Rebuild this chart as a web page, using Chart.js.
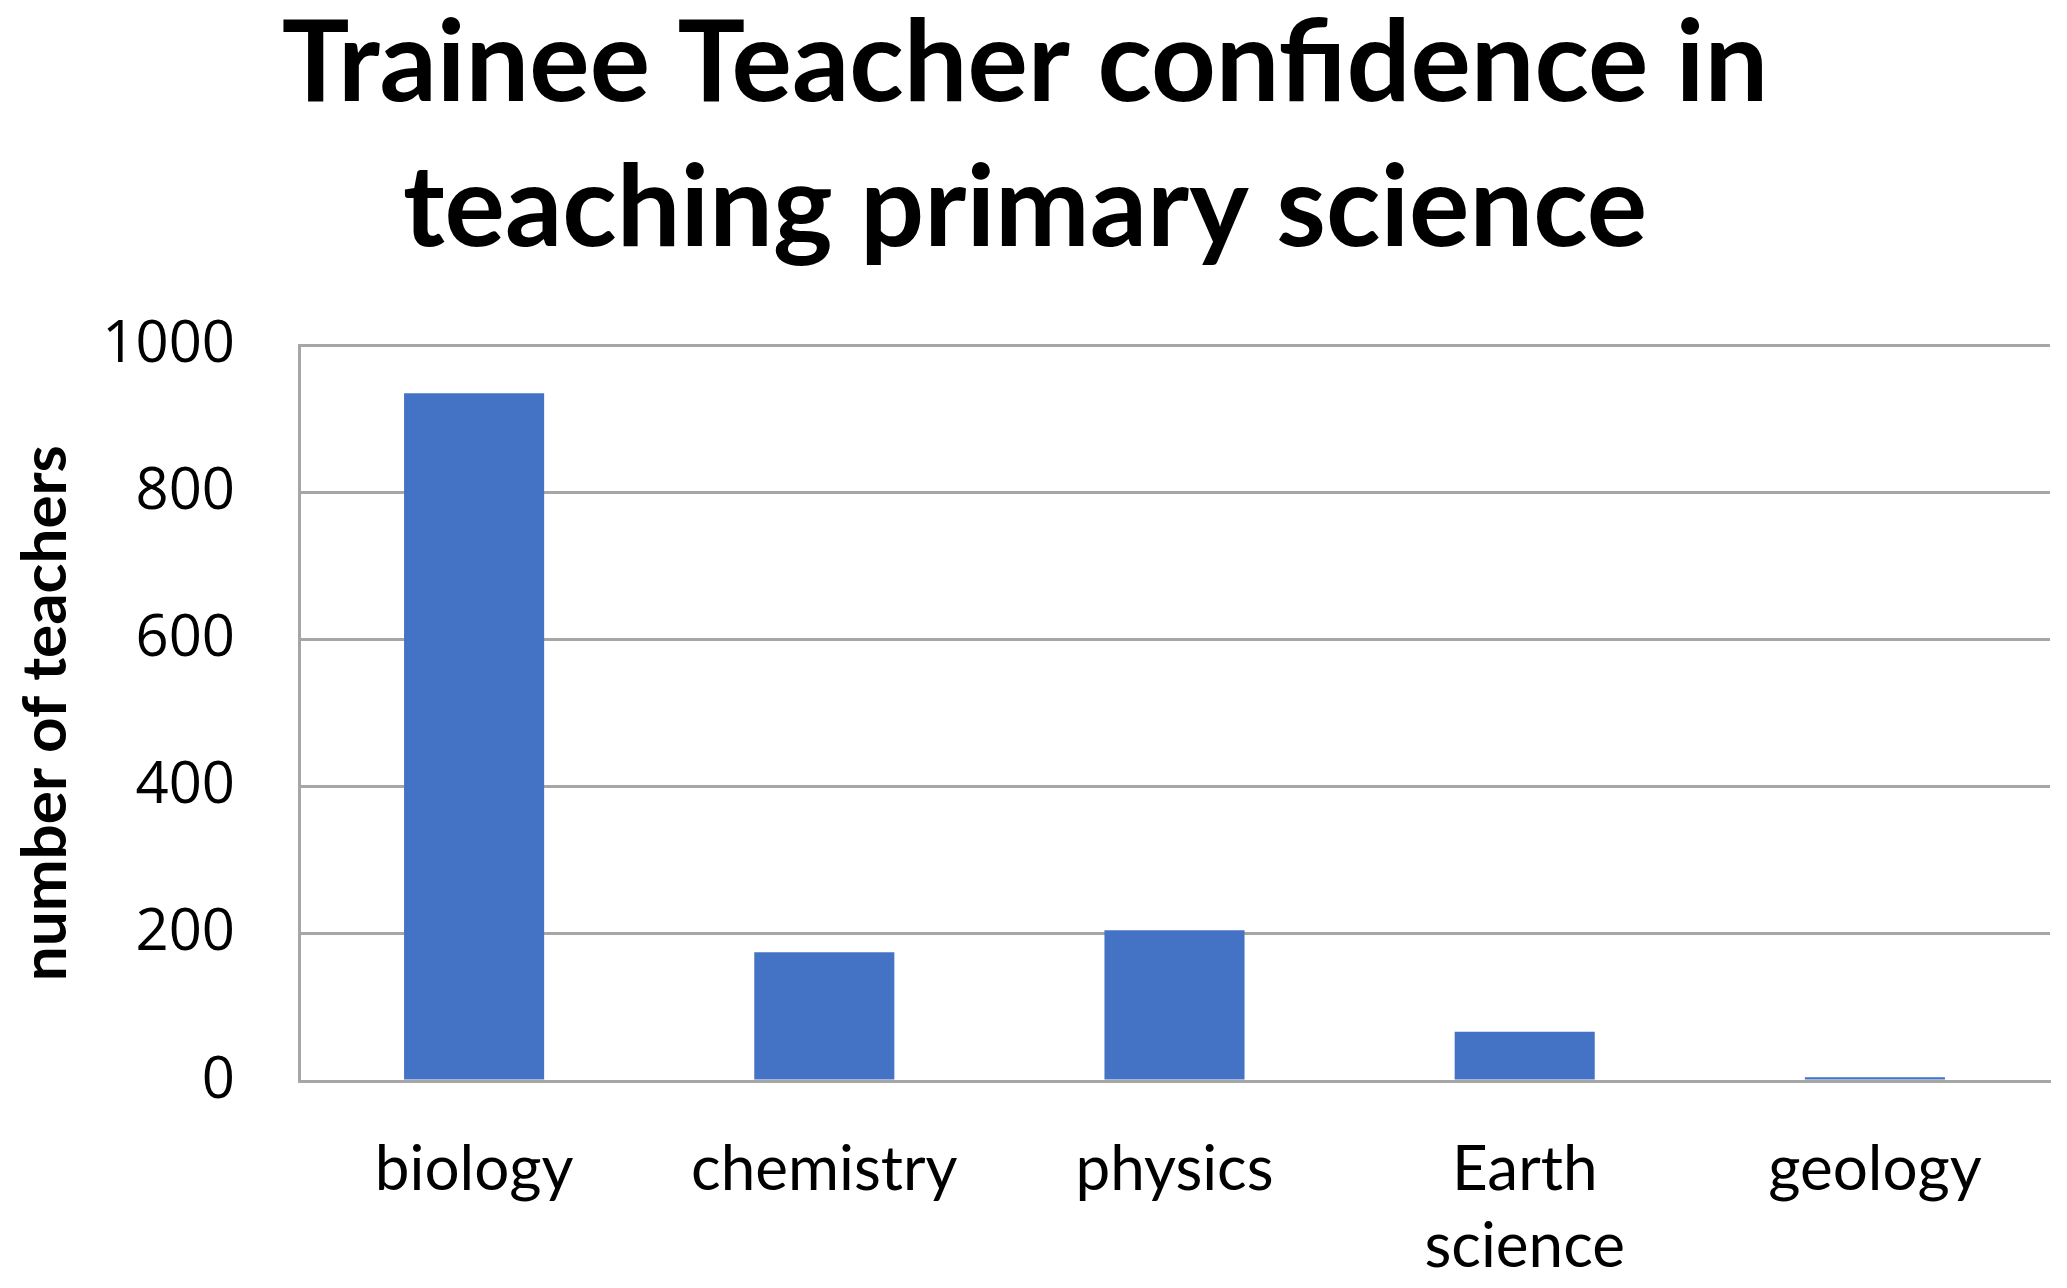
<!DOCTYPE html>
<html>
<head>
<meta charset="utf-8">
<script src="https://cdn.jsdelivr.net/npm/chart.js@4.4.1/dist/chart.umd.min.js"></script>
<style>
  html, body { margin: 0; padding: 0; background: #ffffff; }
  #wrap { width: 2067px; height: 1288px; }
</style>
</head>
<body>
<div id="wrap"><canvas id="chart" width="2067" height="1288"></canvas></div>
<script>
// Trainee teacher confidence - bar chart

const categories = ['biology', 'chemistry', 'physics', ['Earth', 'science'], 'geology'];
const teacherCounts = [935, 175, 205, 67, 5];
const yTicks = [0, 200, 400, 600, 800, 1000];

const barColor = '#4472C4';
const gridColor = '#A6A6A6';

const ctx = document.getElementById('chart');

new Chart(ctx, {
    type: 'bar',
    data: {
        labels: categories,
        datasets: [{
            label: 'number of teachers',
            data: teacherCounts,
            backgroundColor: barColor,
            borderWidth: 0,
            barPercentage: 0.4,
            categoryPercentage: 1.0
        }]
    },
    options: {
        responsive: false,
        animation: false,
        layout: {
            padding: { top: -8, right: 17, bottom: 0, left: 0 }
        },
        plugins: {
            legend: { display: false },
            tooltip: { enabled: false },
            title: {
                display: true,
                text: ['Trainee Teacher confidence in', 'teaching primary science'],
                color: '#000000',
                font: { family: 'Lato', weight: 'bold', size: 113, lineHeight: 1.285 },
                padding: { top: 0, bottom: 63 }
            }
        },
        scales: {
            x: {
                grid: { display: false, drawTicks: false },
                border: { color: gridColor, width: 3 },
                ticks: {
                    color: '#000000',
                    padding: 50,
                    maxRotation: 0,
                    font: { family: 'Lato', size: 62, lineHeight: 1.25 }
                },
                afterFit: axis => { axis.height = 207; }
            },
            y: {
                min: 0,
                max: 1000,
                afterBuildTicks: axis => {
                    axis.ticks = yTicks.map(v => ({ value: v }));
                },
                grid: { color: gridColor, lineWidth: 3, drawTicks: false },
                border: { color: gridColor, width: 3 },
                ticks: {
                    color: '#000000',
                    padding: 64,
                    font: { family: 'Open Sans', size: 58 },
                    callback: value => String(value)
                },
                title: {
                    display: true,
                    text: 'number of teachers',
                    color: '#000000',
                    font: { family: 'Lato', weight: 'bold', size: 62, lineHeight: 1.2 },
                    padding: { top: 9, bottom: 0 }
                },
                afterFit: axis => { axis.width = 299; }
            }
        }
    }
});
</script>
</body>
</html>
